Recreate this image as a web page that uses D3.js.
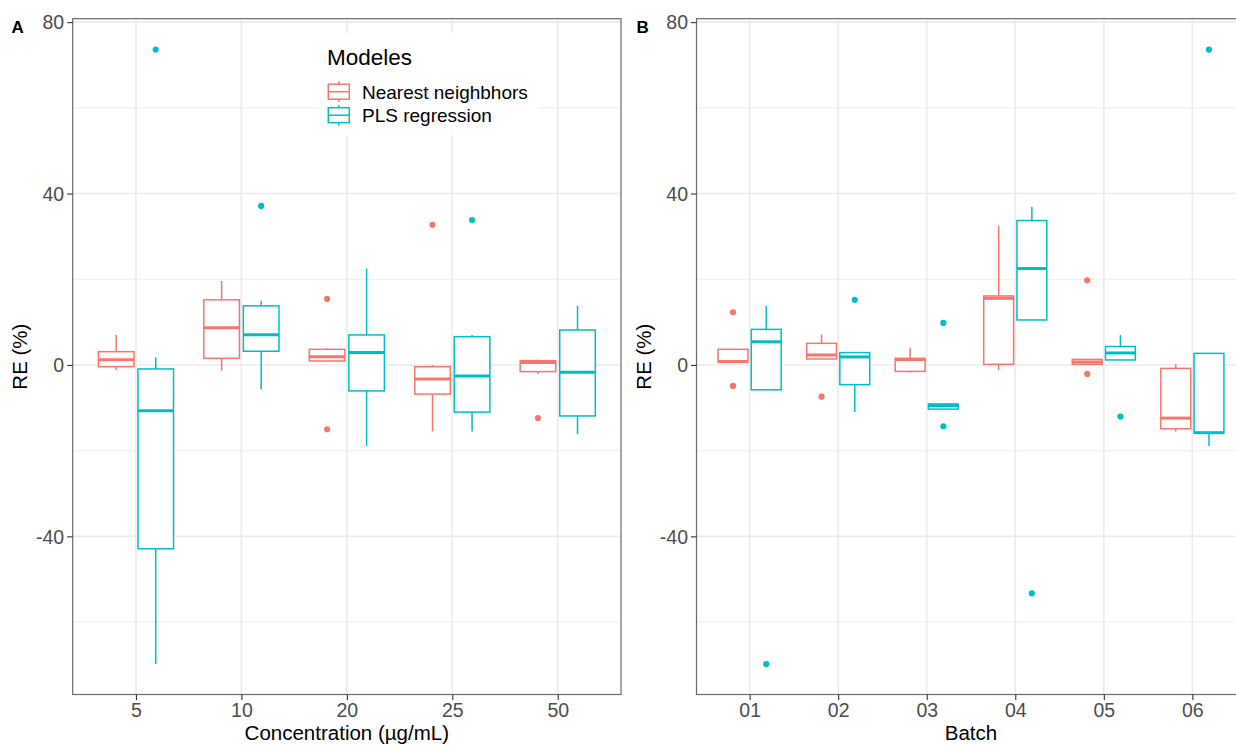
<!DOCTYPE html>
<html>
<head>
<meta charset="utf-8">
<script src="https://cdn.jsdelivr.net/npm/d3@7"></script>
<style>
  html, body { margin: 0; padding: 0; background: #fff; }
  svg { display: block; font-family: "Liberation Sans", Arial, Helvetica, sans-serif; }
</style>
</head>
<body>
<svg id="chart" width="1236" height="745"></svg>
<script>
// ---------------- DATA ----------------
const models = ["Nearest neighbhors", "PLS regression"];
const modelColors = ["#F8766D", "#00BFC4"];

const concCategories = ["5", "10", "20", "25", "50"];
const batchCategories = ["01", "02", "03", "04", "05", "06"];

// box stats: [lower whisker, Q1, median, Q3, upper whisker]
const concNN = [
  [-1.2, -0.4, 1.2, 3.1, 7.0],
  [-1.3, 1.55, 8.7, 15.2, 19.6],
  [0.8, 0.93, 1.9, 3.65, 3.9],
  [-15.5, -6.8, -3.3, -0.4, 0.0],
  [-2.1, -1.55, 0.6, 1.0, 1.3]
];
const concNNOutliers = [[], [], [15.4, -15.0], [32.7], [-12.4]];

const concPLS = [
  [-69.8, -42.9, -10.7, -0.93, 1.8],
  [-5.7, 3.2, 7.07, 13.8, 15.0],
  [-18.9, -6.06, 2.88, 7.0, 22.5],
  [-15.5, -11.0, -2.6, 6.6, 7.0],
  [-16.1, -11.9, -1.7, 8.16, 13.8]
];
const concPLSOutliers = [[73.6], [37.1], [], [33.8], []];

const batchNN = [
  [0.6, 0.6, 0.78, 3.65, 3.65],
  [1.4, 1.4, 2.33, 5.05, 7.15],
  [-1.8, -1.5, 1.24, 1.55, 3.97],
  [-1.2, 0.15, 15.55, 16.1, 32.5],
  [0.15, 0.15, 0.7, 1.3, 1.3],
  [-15.5, -14.9, -12.4, -0.8, 0.15]
];
const batchNNOutliers = [[12.3, -4.9], [-7.4], [], [], [19.75, -2.1], []];

const batchPLS = [
  [-5.8, -5.8, 5.4, 8.3, 13.8],
  [-11.0, -4.6, 1.87, 2.88, 2.88],
  [-10.3, -10.3, -9.5, -9.1, -9.1],
  [10.5, 10.5, 22.5, 33.7, 36.9],
  [1.17, 1.17, 2.8, 4.3, 7.0],
  [-18.9, -15.9, -15.8, 2.7, 2.7]
];
const batchPLSOutliers = [[-69.8], [15.2], [9.8, -14.3], [-53.3], [-12.05], [73.6]];

const yMajorTicks = [-40, 0, 40, 80];
const yMinorTicks = [-60, -20, 20, 60];
const yDomain = [-76.9, 80.8];

// ---------------- DRAW ----------------
const svg = d3.select("#chart");
const TOP = 18.7, BOTTOM = 694.5;
const y = d3.scaleLinear().domain(yDomain).range([BOTTOM, TOP]);

function drawPanel(opts) {
  const { left, right, categories, series, outliers, xTitle, label, labelX, yTitleX, xTitleX } = opts;
  const g = svg.append("g");
  const x = d3.scalePoint().domain(categories).range([left, right]).padding(0.6);
  const step = x.step();

  const clipId = "clip-" + label;
  svg.append("clipPath").attr("id", clipId)
    .append("rect").attr("x", left).attr("y", TOP).attr("width", right - left).attr("height", BOTTOM - TOP);

  const grid = g.append("g").attr("clip-path", `url(#${clipId})`);
  grid.selectAll(".minor").data(yMinorTicks).join("line")
    .attr("x1", left).attr("x2", right)
    .attr("y1", d => y(d)).attr("y2", d => y(d))
    .attr("stroke", "#EBEBEB").attr("stroke-width", 0.9);
  grid.selectAll(".major").data(yMajorTicks).join("line")
    .attr("x1", left).attr("x2", right)
    .attr("y1", d => y(d)).attr("y2", d => y(d))
    .attr("stroke", "#EBEBEB").attr("stroke-width", 1.6);
  grid.selectAll(".vmajor").data(categories).join("line")
    .attr("x1", d => x(d)).attr("x2", d => x(d))
    .attr("y1", TOP).attr("y2", BOTTOM)
    .attr("stroke", "#EBEBEB").attr("stroke-width", 1.6);

  const content = g.append("g").attr("clip-path", `url(#${clipId})`);
  const boxW = 0.3375 * step;
  const offsets = [-0.1875 * step, 0.1875 * step];

  series.forEach((ser, si) => {
    const col = modelColors[si];
    ser.forEach((s, ci) => {
      const cx = x(categories[ci]) + offsets[si];
      const [lo, q1, med, q3, hi] = s;
      const bg = content.append("g");
      bg.append("line").attr("x1", cx).attr("x2", cx).attr("y1", y(q3)).attr("y2", y(hi))
        .attr("stroke", col).attr("stroke-width", 1.5);
      bg.append("line").attr("x1", cx).attr("x2", cx).attr("y1", y(q1)).attr("y2", y(lo))
        .attr("stroke", col).attr("stroke-width", 1.5);
      bg.append("rect").attr("x", cx - boxW / 2).attr("width", boxW)
        .attr("y", y(q3)).attr("height", Math.max(0, y(q1) - y(q3)))
        .attr("fill", "white").attr("stroke", col).attr("stroke-width", 1.5);
      bg.append("line").attr("x1", cx - boxW / 2).attr("x2", cx + boxW / 2)
        .attr("y1", y(med)).attr("y2", y(med))
        .attr("stroke", col).attr("stroke-width", 3);
      bg.selectAll("circle").data(outliers[si][ci]).join("circle")
        .attr("cx", cx).attr("cy", d => y(d)).attr("r", 3.1).attr("fill", col);
    });
  });

  g.append("rect").attr("x", left).attr("y", TOP).attr("width", right - left).attr("height", BOTTOM - TOP)
    .attr("fill", "none").attr("stroke", "#6b6b6b").attr("stroke-width", 1.2);

  const yAxis = g.append("g").attr("transform", `translate(${left},0)`)
    .call(d3.axisLeft(y).tickValues(yMajorTicks).tickSize(5.5).tickPadding(3).tickFormat(d => String(d)));
  yAxis.select(".domain").remove();
  yAxis.selectAll(".tick line").attr("stroke", "#333").attr("stroke-width", 1.1);
  yAxis.selectAll(".tick text").attr("fill", "#4D4D4D").style("font-size", "19.5px")
    .style("font-family", "Liberation Sans, Arial, sans-serif").attr("dy", "0.35em");

  const xAxis = g.append("g").attr("transform", `translate(0,${BOTTOM})`)
    .call(d3.axisBottom(x).tickSize(5.5).tickPadding(3));
  xAxis.select(".domain").remove();
  xAxis.selectAll(".tick line").attr("stroke", "#333").attr("stroke-width", 1.1);
  xAxis.selectAll(".tick text").attr("fill", "#4D4D4D").style("font-size", "19.5px")
    .style("font-family", "Liberation Sans, Arial, sans-serif").attr("dy", "0.71em");

  svg.append("text").attr("x", xTitleX).attr("y", 740)
    .attr("text-anchor", "middle").style("font-size", "20.5px").attr("fill", "#000").text(xTitle);
  svg.append("text").attr("transform", `translate(${yTitleX},${(TOP + BOTTOM) / 2}) rotate(-90)`)
    .attr("text-anchor", "middle").style("font-size", "20.5px").attr("fill", "#000").text("RE (%)");
  svg.append("text").attr("x", labelX).attr("y", 33)
    .style("font-size", "17px").attr("font-weight", "bold").attr("fill", "#000").text(label);
}

drawPanel({
  left: 72.7, right: 621, categories: concCategories,
  series: [concNN, concPLS], outliers: [concNNOutliers, concPLSOutliers],
  xTitle: "Concentration (µg/mL)", label: "A", labelX: 11.5, yTitleX: 27, xTitleX: 346.8
});
drawPanel({
  left: 696.5, right: 1245.5, categories: batchCategories,
  series: [batchNN, batchPLS], outliers: [batchNNOutliers, batchPLSOutliers],
  xTitle: "Batch", label: "B", labelX: 636.5, yTitleX: 651, xTitleX: 971
});

// legend inside panel A
const leg = svg.append("g");
leg.append("rect").attr("x", 319).attr("y", 33).attr("width", 219).attr("height", 102).attr("fill", "white");
leg.append("text").attr("x", 327).attr("y", 65).style("font-size", "22.5px").attr("fill", "#000").text("Modeles");
models.forEach((m, i) => {
  const cy = 91.7 + i * 23.5;
  const col = modelColors[i];
  const kx = 328.3, kw = 21;
  const kg = leg.append("g");
  kg.append("line").attr("x1", kx + kw / 2).attr("x2", kx + kw / 2).attr("y1", cy - 10.5).attr("y2", cy + 10.3)
    .attr("stroke", col).attr("stroke-width", 1.5);
  kg.append("rect").attr("x", kx).attr("y", cy - 7.5).attr("width", kw).attr("height", 15)
    .attr("fill", "white").attr("stroke", col).attr("stroke-width", 1.5);
  kg.append("line").attr("x1", kx).attr("x2", kx + kw).attr("y1", cy).attr("y2", cy)
    .attr("stroke", col).attr("stroke-width", 1.5);
  leg.append("text").attr("x", 362).attr("y", cy + 6.9).style("font-size", "19px").attr("fill", "#000").text(m);
});
</script>
</body>
</html>
